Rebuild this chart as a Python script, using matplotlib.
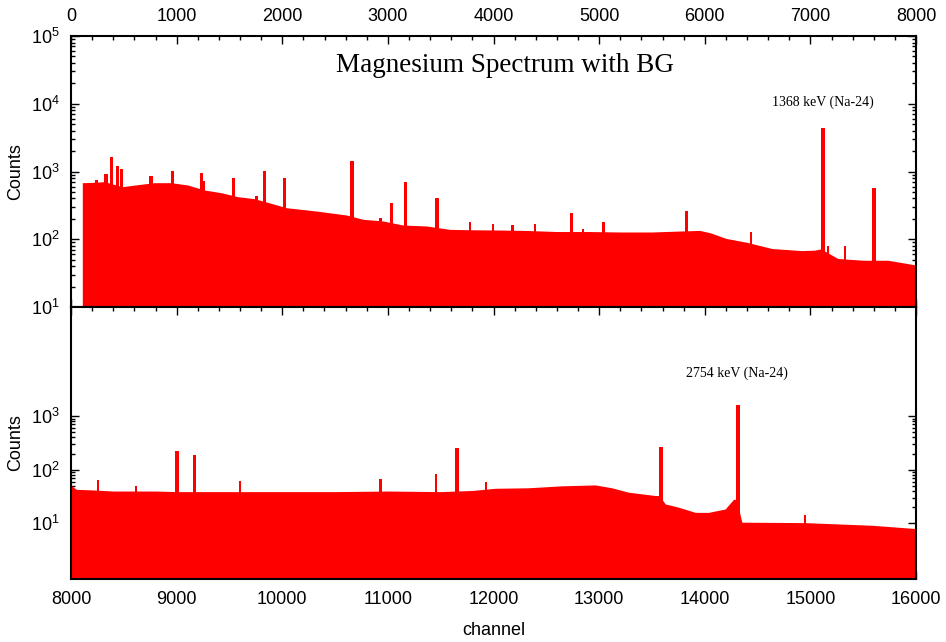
import matplotlib
matplotlib.use("Agg")
import matplotlib.pyplot as plt
from matplotlib.ticker import MultipleLocator, FixedLocator, LogFormatterSciNotation, NullFormatter, LogLocator

plt.rcParams['font.family'] = ['Liberation Sans', 'DejaVu Sans']
plt.rcParams['mathtext.fontset'] = 'custom'
plt.rcParams['mathtext.rm'] = 'Liberation Sans'

# ---- data ----
top_ch = [107, 200, 316, 400, 489, 600, 789, 947, 1105, 1263, 1420, 1578, 1736,
          1894, 2039, 2323, 2607, 2765, 2954, 3144, 3365, 3586, 3800, 4028, 4300,
          4600, 4900, 5200, 5500, 5750, 5950, 6050, 6200, 6400, 6635, 6917, 7038,
          7100, 7260, 7500, 7733, 7986, 8000]
top_counts = [684, 690, 708, 650, 597, 630, 684, 684, 632, 533, 487, 425, 397,
              339, 292, 261, 228, 197, 186, 162, 157, 140, 138, 137, 135,
              130, 130, 128, 128, 132, 135, 125, 103, 90, 73, 68, 69,
              72, 52, 49, 49, 42, 40]

top_peak_ch = [243, 331, 385, 442, 480, 758, 963, 1237, 1256, 1537, 1758, 1831,
               2020, 2661, 2932, 3033, 3169, 3466, 3776, 3997, 4180, 4394, 4741,
               4850, 5041, 5830, 6439, 7121, 7170, 7330, 7601]
top_peak_counts = [760, 918, 1620, 1205, 1077, 850, 1016, 951, 725, 810, 440, 1016,
                   793, 1443, 205, 347, 692, 402, 182, 168, 160, 166, 247,
                   141, 182, 264, 129, 4335, 80, 80, 577]

bot_ch = [8000, 8050, 8200, 8400, 8600, 8800, 9000, 9300, 9600, 10000, 10500,
          11000, 11500, 11800, 12015, 12330, 12646, 12962, 13120, 13278, 13530,
          13570, 13625, 13751, 13910, 14035, 14193, 14272, 14300, 14351, 14951,
          15582, 15993, 16000]
bot_counts = [51, 43, 42, 40, 40, 40, 39, 39, 39, 39, 39,
              40, 39, 41, 45, 46, 50, 52, 46, 38, 33,
              33, 23, 20, 16, 16, 18.5, 28, 28, 10.5, 10.3,
              9.2, 8, 7]

bot_peak_ch = [8253, 8615, 9004, 9168, 9603, 10930, 11454, 11656, 11927, 13587,
               14313, 14951]
bot_peak_counts = [64, 50, 225, 190, 61, 66, 82, 253, 60, 264, 1580, 14]

title = "Magnesium Spectrum with BG"
ann_top = "1368 keV (Na-24)"
ann_bot = "2754 keV (Na-24)"

# ---- figure ----
W, H = 946, 642
fig = plt.figure(figsize=(W / 100, H / 100), dpi=100)

def fbox(x0, y0, x1, y1):
    return [x0 / W, 1 - y1 / H, (x1 - x0) / W, (y1 - y0) / H]

ax1 = fig.add_axes(fbox(71, 36, 916, 307))
ax2 = fig.add_axes(fbox(71, 307, 916, 579))

red = '#ff0000'

def draw(ax, ch, counts, pch, pcounts, floor):
    ax.fill_between(ch, counts, floor, color=red, linewidth=0, zorder=2)
    widths = [32 if c > 200 else 22 for c in pcounts]
    ax.bar(pch, [c - floor for c in pcounts], width=widths, bottom=floor,
           color=red, linewidth=0, zorder=2)

draw(ax1, top_ch, top_counts, top_peak_ch, top_peak_counts, 1.0)
draw(ax2, bot_ch, bot_counts, bot_peak_ch, bot_peak_counts, 0.5)

for ax in (ax1, ax2):
    ax.set_yscale('log')
    for s in ax.spines.values():
        s.set_linewidth(1.5)
    ax.tick_params(which='both', direction='in', top=True, bottom=True,
                   left=True, right=True, labelsize=13, width=1.0)
    ax.tick_params(which='major', length=6)
    ax.tick_params(which='minor', length=3)
    ax.xaxis.set_major_locator(MultipleLocator(1000))
    ax.xaxis.set_minor_locator(MultipleLocator(200))
    ax.set_ylabel('Counts', fontsize=13)

ax1.set_xlim(0, 8000)
ax1.set_ylim(10, 1e5)
ax1.yaxis.set_major_locator(FixedLocator([10, 100, 1000, 1e4, 1e5]))
ax1.yaxis.set_minor_locator(LogLocator(base=10, subs=range(2, 10), numticks=20))
ax1.yaxis.set_major_formatter(LogFormatterSciNotation())
ax1.yaxis.set_minor_formatter(NullFormatter())
ax1.tick_params(axis='x', labeltop=True, labelbottom=False, pad=8)
ax1.tick_params(axis='y', pad=8)
ax1.yaxis.set_label_coords(-0.055, 0.5)

ax2.set_xlim(8000, 16000)
ax2.set_ylim(0.916, 1.08e5)
ax2.yaxis.set_major_locator(FixedLocator([10, 100, 1000]))
ax2.yaxis.set_minor_locator(FixedLocator([m * d for d in (10, 100) for m in range(2, 10)]))
ax2.yaxis.set_major_formatter(LogFormatterSciNotation())
ax2.yaxis.set_minor_formatter(NullFormatter())
ax2.tick_params(axis='x', labeltop=False, labelbottom=True, pad=9)
ax2.tick_params(axis='y', pad=8)
ax2.set_xlabel('channel', fontsize=13, labelpad=10)
ax2.yaxis.set_label_coords(-0.055, 0.5)

ax1.text(7121, 1.05e4, ann_top, family='Liberation Serif', fontsize=10,
         ha='center', va='center')
ax2.text(14307, 6.2e3, ann_bot, family='Liberation Serif', fontsize=10,
         ha='center', va='center')
fig.text(505 / W, 1 - 66 / H, title, family='Liberation Serif', fontsize=19.5,
         ha='center', va='center')

fig.savefig('out.png', dpi=100)
